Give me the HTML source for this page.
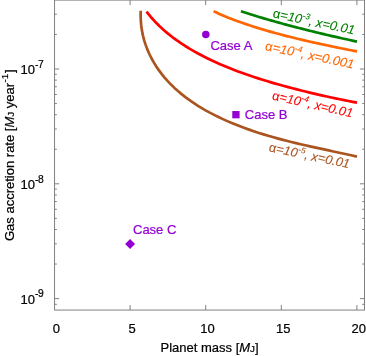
<!DOCTYPE html>
<html><head><meta charset="utf-8"><style>
html,body{margin:0;padding:0;background:#fff;}
svg{display:block;}
text{font-family:"Liberation Sans",sans-serif;font-size:13px;fill:#000;stroke:#000;stroke-width:0.22px;}
text.c[font-style]{font-size:12.8px;stroke-width:0.1px}
text.c.g{font-size:12.95px}
</style></head><body>
<svg style="will-change:transform" width="366" height="356" viewBox="0 0 366 356">
<rect x="54.55" y="0.10" width="309.95" height="309.95" fill="none" stroke="#808080" stroke-width="1"/>
<path d="M130.10 310.05 v-5 M130.10 0.10 v5 M205.70 310.05 v-5 M205.70 0.10 v5 M281.30 310.05 v-5 M281.30 0.10 v5 M356.90 310.05 v-5 M356.90 0.10 v5 M54.55 304.30 h2.3 M364.50 304.30 h-2.3 M54.55 298.60 h4.6 M364.50 298.60 h-4.6 M54.55 264.04 h2.3 M364.50 264.04 h-2.3 M54.55 243.83 h2.3 M364.50 243.83 h-2.3 M54.55 229.48 h2.3 M364.50 229.48 h-2.3 M54.55 218.36 h2.3 M364.50 218.36 h-2.3 M54.55 209.27 h2.3 M364.50 209.27 h-2.3 M54.55 201.58 h2.3 M364.50 201.58 h-2.3 M54.55 194.93 h2.3 M364.50 194.93 h-2.3 M54.55 189.05 h2.3 M364.50 189.05 h-2.3 M54.55 183.80 h4.6 M364.50 183.80 h-4.6 M54.55 149.24 h2.3 M364.50 149.24 h-2.3 M54.55 129.03 h2.3 M364.50 129.03 h-2.3 M54.55 114.68 h2.3 M364.50 114.68 h-2.3 M54.55 103.56 h2.3 M364.50 103.56 h-2.3 M54.55 94.47 h2.3 M364.50 94.47 h-2.3 M54.55 86.78 h2.3 M364.50 86.78 h-2.3 M54.55 80.13 h2.3 M364.50 80.13 h-2.3 M54.55 74.25 h2.3 M364.50 74.25 h-2.3 M54.55 69.00 h4.6 M364.50 69.00 h-4.6 M54.55 34.44 h2.3 M364.50 34.44 h-2.3 M54.55 14.23 h2.3 M364.50 14.23 h-2.3" stroke="#808080" stroke-width="1" fill="none"/>
<path d="M140.72 10.74 L140.62 15.90 L140.81 20.97 L141.27 25.94 L141.99 30.83 L142.97 35.61 L144.19 40.30 L145.64 44.88 L147.33 49.37 L149.22 53.74 L151.32 58.01 L153.62 62.16 L156.11 66.20 L158.77 70.12 L161.60 73.92 L164.59 77.60 L167.73 81.16 L171.01 84.59 L174.42 87.89 L177.95 91.08 L181.61 94.15 L185.37 97.11 L189.23 99.96 L193.19 102.70 L197.23 105.34 L201.35 107.87 L205.55 110.31 L209.80 112.65 L214.12 114.90 L218.48 117.05 L222.88 119.12 L227.31 121.11 L231.77 123.01 L236.25 124.84 L240.75 126.59 L245.27 128.27 L249.81 129.88 L254.36 131.43 L258.93 132.92 L263.52 134.35 L268.12 135.73 L272.73 137.06 L277.35 138.35 L281.99 139.59 L286.63 140.79 L291.29 141.96 L295.96 143.09 L300.63 144.20 L305.31 145.28 L309.99 146.34 L314.68 147.38 L319.37 148.41 L324.07 149.43 L328.77 150.44 L333.47 151.45 L338.17 152.46 L342.87 153.47 L347.57 154.49 L352.27 155.52 L356.96 156.56" stroke="#aa5520" stroke-width="2.7" fill="none" stroke-linecap="butt" stroke-linejoin="round"/>
<path d="M146.50 11.72 L150.80 16.97 L155.09 21.71 L159.39 26.02 L163.68 29.98 L167.98 33.64 L172.28 37.04 L176.57 40.21 L180.87 43.19 L185.16 45.99 L189.46 48.64 L193.76 51.15 L198.05 53.54 L202.35 55.81 L206.64 57.98 L210.94 60.05 L215.23 62.04 L219.53 63.95 L223.83 65.79 L228.12 67.55 L232.42 69.26 L236.71 70.90 L241.01 72.49 L245.31 74.03 L249.60 75.52 L253.90 76.97 L258.19 78.37 L262.49 79.73 L266.79 81.06 L271.08 82.35 L275.38 83.60 L279.67 84.82 L283.97 86.01 L288.27 87.17 L292.56 88.31 L296.86 89.42 L301.15 90.50 L305.45 91.56 L309.74 92.59 L314.04 93.60 L318.34 94.59 L322.63 95.56 L326.93 96.51 L331.22 97.45 L335.52 98.36 L339.82 99.26 L344.11 100.13 L348.41 101.00 L352.70 101.85 L357.00 102.68" stroke="#ff0000" stroke-width="2.7" fill="none" stroke-linecap="butt" stroke-linejoin="round"/>
<path d="M213.60 11.21 L216.53 12.59 L219.45 13.92 L222.38 15.21 L225.31 16.44 L228.23 17.64 L231.16 18.80 L234.09 19.92 L237.01 21.01 L239.94 22.07 L242.87 23.10 L245.79 24.11 L248.72 25.08 L251.64 26.04 L254.57 26.97 L257.50 27.89 L260.42 28.78 L263.35 29.65 L266.28 30.51 L269.20 31.35 L272.13 32.17 L275.06 32.98 L277.98 33.77 L280.91 34.55 L283.84 35.32 L286.76 36.07 L289.69 36.81 L292.62 37.54 L295.54 38.26 L298.47 38.97 L301.40 39.67 L304.32 40.35 L307.25 41.03 L310.18 41.70 L313.10 42.36 L316.03 43.01 L318.96 43.66 L321.88 44.29 L324.81 44.92 L327.73 45.54 L330.66 46.15 L333.59 46.76 L336.51 47.36 L339.44 47.95 L342.37 48.54 L345.29 49.12 L348.22 49.70 L351.15 50.27 L354.07 50.83 L357.00 51.39" stroke="#ff6600" stroke-width="2.7" fill="none" stroke-linecap="butt" stroke-linejoin="round"/>
<path d="M240.90 11.32 L243.27 12.08 L245.64 12.83 L248.01 13.57 L250.38 14.31 L252.75 15.04 L255.12 15.76 L257.49 16.48 L259.86 17.19 L262.22 17.89 L264.59 18.59 L266.96 19.28 L269.33 19.96 L271.70 20.64 L274.07 21.31 L276.44 21.97 L278.81 22.63 L281.18 23.29 L283.55 23.93 L285.92 24.58 L288.29 25.21 L290.66 25.84 L293.03 26.47 L295.40 27.09 L297.77 27.70 L300.13 28.31 L302.50 28.92 L304.87 29.52 L307.24 30.11 L309.61 30.70 L311.98 31.29 L314.35 31.87 L316.72 32.45 L319.09 33.02 L321.46 33.58 L323.83 34.15 L326.20 34.70 L328.57 35.26 L330.94 35.81 L333.31 36.35 L335.68 36.89 L338.04 37.43 L340.41 37.96 L342.78 38.49 L345.15 39.01 L347.52 39.54 L349.89 40.05 L352.26 40.56 L354.63 41.07 L357.00 41.58" stroke="#008000" stroke-width="2.7" fill="none" stroke-linecap="butt" stroke-linejoin="round"/>
<circle cx="205.8" cy="34.4" r="3.75" fill="#9400d3"/>
<rect x="232.29" y="111.03" width="7.3" height="7.3" fill="#9400d3"/>
<path d="M130.10 238.98 l4.95 4.95 l-4.95 4.95 l-4.95 -4.95z" fill="#9400d3"/>
<text x="210.4" y="50.4" style="fill:#9400d3;stroke:#9400d3" class="c">Case A</text>
<text x="244.8" y="119" style="fill:#9400d3;stroke:#9400d3" class="c">Case B</text>
<text x="133" y="233.9" style="fill:#9400d3;stroke:#9400d3" class="c">Case C</text>
<text x="56.4" y="333" text-anchor="middle">0</text>
<text x="132.0" y="333" text-anchor="middle">5</text>
<text x="207.6" y="333" text-anchor="middle">10</text>
<text x="283.2" y="333" text-anchor="middle">15</text>
<text x="358.8" y="333" text-anchor="middle">20</text>
<text x="20.5" y="74.0">10<tspan dy="-6.2" font-size="10.3" letter-spacing="-0.3">-7</tspan></text>
<text x="20.5" y="188.8">10<tspan dy="-6.2" font-size="10.3" letter-spacing="-0.3">-8</tspan></text>
<text x="20.5" y="303.6">10<tspan dy="-6.2" font-size="10.3" letter-spacing="-0.3">-9</tspan></text>
<text x="160.5" y="352">Planet mass [<tspan font-style="italic">M</tspan><tspan font-size="9.8">J</tspan>]</text>
<text transform="translate(13.8,241.0) rotate(-90)">Gas accretion rate [<tspan font-style="italic">M</tspan><tspan font-size="9.8">J</tspan> year<tspan dx="0.5" dy="-6.1" font-size="9.8">-1</tspan><tspan dx="0.6" dy="6.1">]</tspan></text>
<text transform="translate(272.3,17.3) rotate(12.0)" style="fill:#008000;stroke:#008000" class="c g"  font-style="italic"><tspan font-style="normal">α</tspan>=10<tspan dy="-5.3" font-size="8.3">-3</tspan><tspan dy="5.3">, x=0.01</tspan></text>
<text transform="translate(264.6,50.0) rotate(12.0)" style="fill:#ff6600;stroke:#ff6600" class="c g"  font-style="italic"><tspan font-style="normal">α</tspan>=10<tspan dy="-5.3" font-size="8.3">-4</tspan><tspan dy="5.3">, x=0.001</tspan></text>
<text transform="translate(271.5,99.4) rotate(12.7)" style="fill:#ff0000;stroke:#ff0000" class="c"  font-style="italic"><tspan font-style="normal">α</tspan>=10<tspan dy="-5.3" font-size="8.3">-4</tspan><tspan dy="5.3">, x=0.01</tspan></text>
<text transform="translate(268.2,151.2) rotate(12.0)" style="fill:#aa5520;stroke:#aa5520" class="c"  font-style="italic"><tspan font-style="normal">α</tspan>=10<tspan dy="-5.3" font-size="8.3">-5</tspan><tspan dy="5.3">, x=0.01</tspan></text>
</svg></body></html>
